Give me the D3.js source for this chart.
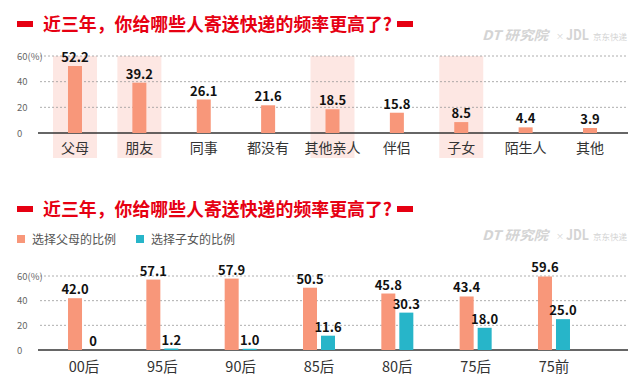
<!DOCTYPE html>
<html><head><meta charset="utf-8">
<script src="https://cdn.jsdelivr.net/npm/d3@7"></script>
<style>body{margin:0;background:#fff}svg{display:block}text{font-family:"Noto Sans CJK SC","Noto Sans",sans-serif}</style>
</head><body>
<script>
const title = "近三年，你给哪些人寄送快递的频率更高了?";
const categories1 = ["父母","朋友","同事","都没有","其他亲人","伴侣","子女","陌生人","其他"];
const values1 = [52.2,39.2,26.1,21.6,18.5,15.8,8.5,4.4,3.9];
const highlighted1 = ["父母","朋友","其他亲人","子女"];
const groups2 = ["00后","95后","90后","85后","80后","75后","75前"];
const series2 = ["选择父母的比例","选择子女的比例"];
const parents2 = [42.0,57.1,57.9,50.5,45.8,43.4,59.6];
const children2 = [0,1.2,1.0,11.6,30.3,18.0,25.0];
const yTicks = [0,20,40,60];
const colors = ["#f8977a","#27b5c9"];

const W=640,H=383;
const svg=d3.select("body").append("svg").attr("width",W).attr("height",H);

function header(y){
  svg.append("rect").attr("x",17).attr("y",y-10).attr("width",16).attr("height",6).attr("fill","#e60012");
  svg.append("text").attr("x",43).attr("y",y).attr("font-size",18).attr("font-weight","bold").attr("fill","#e60012")
    .attr("textLength",349).attr("lengthAdjust","spacingAndGlyphs").text(title);
  svg.append("rect").attr("x",397).attr("y",y-10).attr("width",16).attr("height",6).attr("fill","#e60012");
}
function watermark(y){
  const g=svg.append("g").attr("fill","#d4d4d4");
  g.append("text").attr("x",482).attr("y",y).attr("font-size",13).attr("font-weight","bold").attr("font-style","italic")
    .attr("textLength",66).attr("lengthAdjust","spacingAndGlyphs").text("DT 研究院");
  g.append("text").attr("x",556).attr("y",y-1).attr("font-size",8).text("×");
  g.append("text").attr("x",566).attr("y",y).attr("font-size",14).attr("font-weight","bold")
    .attr("textLength",23).attr("lengthAdjust","spacingAndGlyphs").text("JDL");
  g.append("text").attr("x",593).attr("y",y).attr("font-size",8.5).attr("textLength",34).attr("lengthAdjust","spacingAndGlyphs").text("京东快递");
}
function yAxis(y, x0, x1){
  const g=svg.append("g");
  yTicks.forEach(t=>{
    if(t>0) g.append("line").attr("x1",x0).attr("x2",x1).attr("y1",y(t)).attr("y2",y(t))
      .attr("stroke","#999").attr("stroke-width",0.8).attr("stroke-dasharray","2,2");
    g.append("text").attr("x",17).attr("y",y(t)+3.5).attr("font-size",9.5).attr("fill","#666").text(t===60?"60(%)":t);
  });
  g.append("line").attr("x1",x0-2).attr("x2",x1).attr("y1",y(0)).attr("y2",y(0)).attr("stroke","#333").attr("stroke-width",1.3);
}

// ---- chart 1
header(31); watermark(40);
const x1=d3.scaleBand().domain(categories1).range([42.8,622.2]);
const y1=d3.scaleLinear().domain([0,60]).range([133,56]);
svg.append("g").selectAll("rect").data(categories1.filter(c=>highlighted1.includes(c))).join("rect")
  .attr("x",d=>x1(d)+x1.bandwidth()/2-22).attr("width",44).attr("y",56).attr("height",102).attr("fill","#fde7e3");
yAxis(y1,40,628);
svg.append("g").selectAll("rect").data(categories1).join("rect")
  .attr("x",d=>x1(d)+x1.bandwidth()/2-7).attr("width",14)
  .attr("y",(d,i)=>y1(values1[i])).attr("height",(d,i)=>y1(0)-y1(values1[i])).attr("fill",colors[0]);
svg.append("g").selectAll("text").data(categories1).join("text")
  .attr("x",d=>x1(d)+x1.bandwidth()/2).attr("y",(d,i)=>y1(values1[i])-4).attr("text-anchor","middle")
  .attr("font-size",13).attr("font-weight","bold").attr("fill","#111").text((d,i)=>values1[i].toFixed(1));
svg.append("g").selectAll("text").data(categories1).join("text")
  .attr("x",d=>x1(d)+x1.bandwidth()/2).attr("y",153).attr("text-anchor","middle")
  .attr("font-size",14).attr("fill","#333").text(d=>d);

// ---- chart 2
header(216); watermark(240);
series2.forEach((s,i)=>{
  const lx=[17,136][i];
  svg.append("rect").attr("x",lx).attr("y",235).attr("width",8).attr("height",8).attr("fill",colors[i]);
  svg.append("text").attr("x",lx+15).attr("y",243.5).attr("font-size",12).attr("fill","#555").text(s);
});
const x2=d3.scaleBand().domain(groups2).range([44.85,593.15]);
const xs=d3.scaleBand().domain(series2).range([-16,16]).paddingInner(2/9);
const y2=d3.scaleLinear().domain([0,60]).range([350,276]);
yAxis(y2,40,628);
const data2=[];
groups2.forEach((g,i)=>{data2.push({g,s:series2[0],v:parents2[i],c:colors[0]});data2.push({g,s:series2[1],v:children2[i],c:colors[1]});});
const bx=d=>x2(d.g)+x2.bandwidth()/2+xs(d.s);
svg.append("g").selectAll("rect").data(data2).join("rect")
  .attr("x",bx).attr("width",xs.bandwidth()).attr("y",d=>y2(d.v)).attr("height",d=>y2(0)-y2(d.v)).attr("fill",d=>d.c);
svg.append("g").selectAll("text").data(data2).join("text")
  .attr("x",d=>bx(d)+xs.bandwidth()/2).attr("y",d=>y2(d.v)-4).attr("text-anchor","middle")
  .attr("font-size",13).attr("font-weight","bold").attr("fill","#111").text(d=>d.v===0?"0":d.v.toFixed(1));
svg.append("g").selectAll("text").data(groups2).join("text")
  .attr("x",d=>x2(d)+x2.bandwidth()/2).attr("y",372).attr("text-anchor","middle")
  .attr("font-size",14.5).attr("fill","#333").text(d=>d);
</script>
</body></html>
